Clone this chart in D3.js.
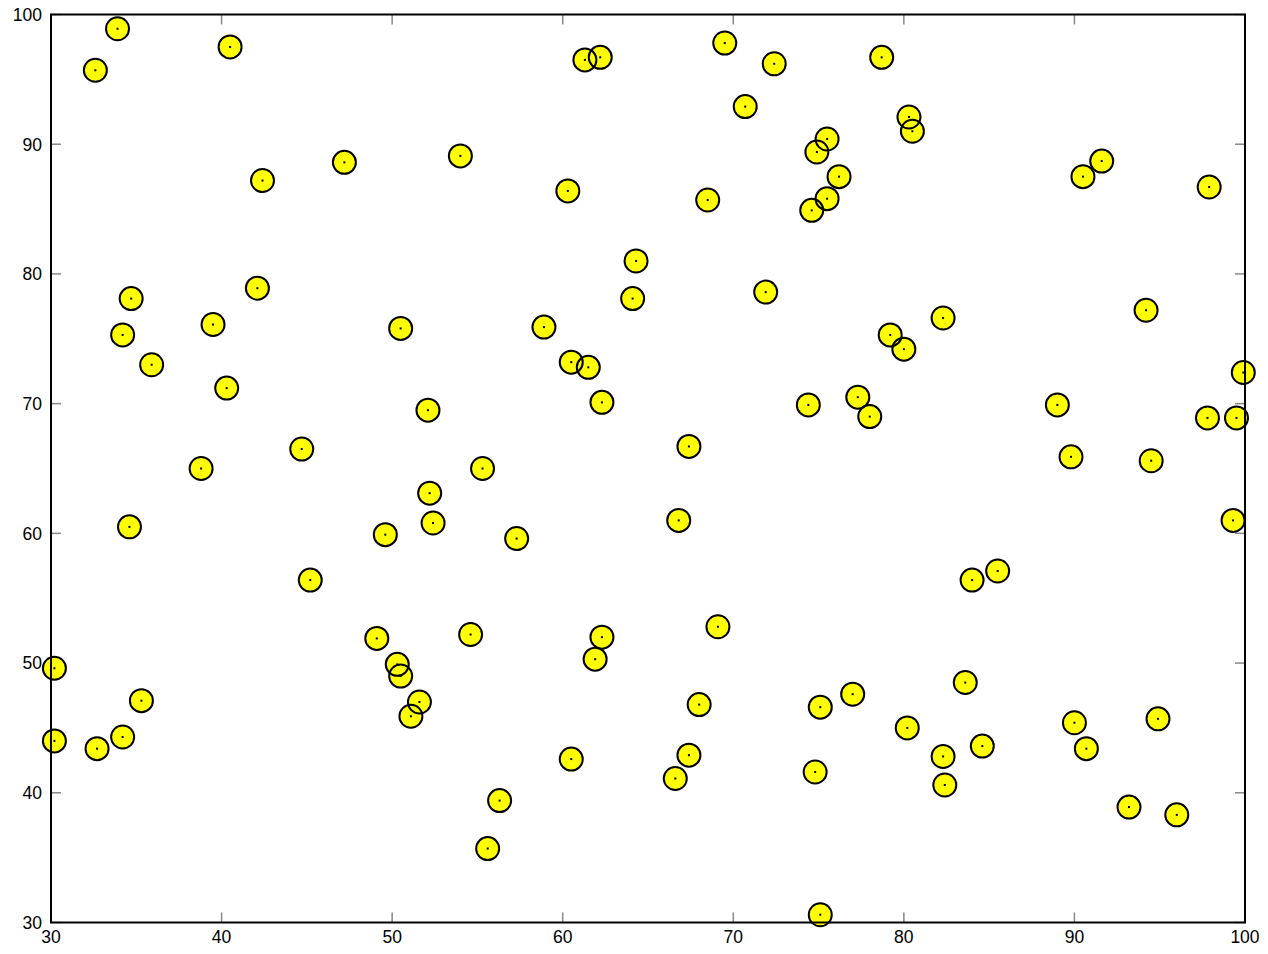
<!DOCTYPE html>
<html>
  <head>
    <meta charset="UTF-8">
    <script src="https://d3js.org/d3.v7.min.js"></script>
    <style>
      body { margin: 0; background: #fff; }
      .tick-label { font-family: "Liberation Sans", Arial, sans-serif; font-size: 17.5px; fill: #000; }
    </style>
    <title>Scatter</title>
  </head>
  <body>
    <svg id="plot" width="1268" height="954"></svg>
    <script>
      // values
      const xValues = [
        33.9, 32.6, 40.5, 61.3, 62.2, 69.5, 72.4, 78.7, 70.7, 80.3,
        80.5, 75.5, 74.9, 47.2, 54.0, 42.4, 60.3, 68.5, 76.2, 75.5,
        74.6, 90.5, 91.6, 97.9, 64.3, 64.1, 42.1, 34.7, 34.2, 39.5,
        35.9, 40.3, 50.5, 58.9, 60.5, 61.5, 62.3, 71.9, 79.2, 80.0,
        82.3, 94.2, 99.9, 97.8, 99.5, 89.0, 89.8, 94.5, 99.3, 74.4,
        77.3, 78.0, 67.4, 66.8, 52.1, 44.7, 38.8, 55.3, 52.2, 52.4,
        34.6, 49.6, 57.3, 45.2, 84.0, 85.5, 49.1, 54.6, 62.3, 61.9,
        69.1, 30.2, 50.3, 50.5, 51.6, 51.1, 35.3, 30.2, 32.7, 34.2,
        68.0, 75.1, 77.0, 83.6, 80.2, 82.3, 82.4, 84.6, 90.0, 90.7,
        94.9, 93.2, 96.0, 60.5, 67.4, 66.6, 74.8, 56.3, 55.6, 75.1
      ];
      const yValues = [
        98.9, 95.7, 97.5, 96.5, 96.7, 97.8, 96.2, 96.7, 92.9, 92.1,
        91.0, 90.4, 89.4, 88.6, 89.1, 87.2, 86.4, 85.7, 87.5, 85.8,
        84.9, 87.5, 88.7, 86.7, 81.0, 78.1, 78.9, 78.1, 75.3, 76.1,
        73.0, 71.2, 75.8, 75.9, 73.2, 72.8, 70.1, 78.6, 75.3, 74.2,
        76.6, 77.2, 72.4, 68.9, 68.9, 69.9, 65.9, 65.6, 61.0, 69.9,
        70.5, 69.0, 66.7, 61.0, 69.5, 66.5, 65.0, 65.0, 63.1, 60.8,
        60.5, 59.9, 59.6, 56.4, 56.4, 57.1, 51.9, 52.2, 52.0, 50.3,
        52.8, 49.6, 49.9, 49.0, 47.0, 45.9, 47.1, 44.0, 43.4, 44.3,
        46.8, 46.6, 47.6, 48.5, 45.0, 42.8, 40.6, 43.6, 45.4, 43.4,
        45.7, 38.9, 38.3, 42.6, 42.9, 41.1, 41.6, 39.4, 35.7, 30.6
      ];
      const xTicks = [30, 40, 50, 60, 70, 80, 90, 100];
      const yTicks = [30, 40, 50, 60, 70, 80, 90, 100];

      const points = xValues.map((x, i) => ({x: x, y: yValues[i]}));

      const svg = d3.select("svg#plot");
      const width = +svg.attr("width");
      const height = +svg.attr("height");
      const margin = {top: 14.5, right: 23, bottom: 31.5, left: 51};
      const chartWidth = width - margin.left - margin.right;
      const chartHeight = height - margin.top - margin.bottom;

      const xScale = d3.scaleLinear().domain([30, 100]).range([0, chartWidth]);
      const yScale = d3.scaleLinear().domain([30, 100]).range([chartHeight, 0]);

      const plot = svg.append("g")
        .attr("transform", "translate(" + margin.left + "," + margin.top + ")");

      // inward grey ticks on all four sides
      const tickLen = 10;
      const ticks = plot.append("g")
        .attr("stroke", "#888")
        .attr("stroke-width", 1.5);
      ticks.selectAll("line.xb").data(xTicks).join("line")
        .attr("class", "xb")
        .attr("x1", d => xScale(d)).attr("x2", d => xScale(d))
        .attr("y1", chartHeight).attr("y2", chartHeight - tickLen);
      ticks.selectAll("line.xt").data(xTicks).join("line")
        .attr("class", "xt")
        .attr("x1", d => xScale(d)).attr("x2", d => xScale(d))
        .attr("y1", 0).attr("y2", tickLen);
      ticks.selectAll("line.yl").data(yTicks).join("line")
        .attr("class", "yl")
        .attr("x1", 0).attr("x2", tickLen)
        .attr("y1", d => yScale(d)).attr("y2", d => yScale(d));
      ticks.selectAll("line.yr").data(yTicks).join("line")
        .attr("class", "yr")
        .attr("x1", chartWidth).attr("x2", chartWidth - tickLen)
        .attr("y1", d => yScale(d)).attr("y2", d => yScale(d));

      // tick labels
      plot.append("g").selectAll("text").data(xTicks).join("text")
        .attr("class", "tick-label")
        .attr("x", d => xScale(d))
        .attr("y", chartHeight + 20)
        .attr("text-anchor", "middle")
        .text(d => d);
      plot.append("g").selectAll("text").data(yTicks).join("text")
        .attr("class", "tick-label")
        .attr("x", -9)
        .attr("y", d => yScale(d))
        .attr("dy", "0.36em")
        .attr("text-anchor", "end")
        .text(d => d);

      // fills first, outlines after, so every outline stays visible
      plot.append("g").selectAll("circle").data(points).join("circle")
        .attr("cx", d => xScale(d.x))
        .attr("cy", d => yScale(d.y))
        .attr("r", 11.5)
        .attr("fill", "#ffff00");
      plot.append("g").selectAll("circle").data(points).join("circle")
        .attr("cx", d => xScale(d.x))
        .attr("cy", d => yScale(d.y))
        .attr("r", 11.5)
        .attr("fill", "none")
        .attr("stroke", "#000")
        .attr("stroke-width", 2);
      plot.append("g").selectAll("rect").data(points).join("rect")
        .attr("x", d => xScale(d.x) - 1)
        .attr("y", d => yScale(d.y) - 1)
        .attr("width", 2)
        .attr("height", 2)
        .attr("fill", "#000");

      // frame
      plot.append("rect")
        .attr("width", chartWidth)
        .attr("height", chartHeight)
        .attr("fill", "none")
        .attr("stroke", "#000")
        .attr("stroke-width", 2);
    </script>
  </body>
</html>
